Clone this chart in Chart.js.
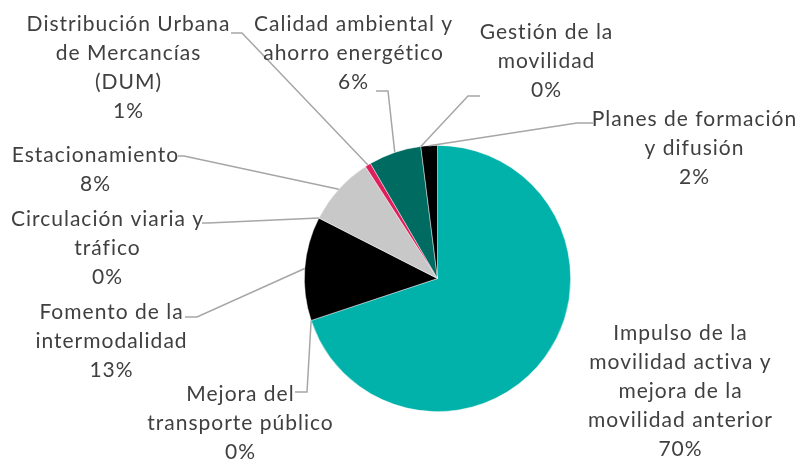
<!DOCTYPE html>
<html>
<head>
<meta charset="utf-8">
<script src="https://cdn.jsdelivr.net/npm/chart.js@4/dist/chart.umd.min.js"></script>
<style>
  html, body { margin: 0; padding: 0; background: #fff; }
</style>
</head>
<body>
<canvas id="pie" width="799" height="459"></canvas>
<script>
// Slices in drawing order, clockwise from 12 o'clock
const categoryLines = [
    ['Impulso de la', 'movilidad activa y', 'mejora de la', 'movilidad anterior'],
    ['Mejora del', 'transporte público'],
    ['Fomento de la', 'intermodalidad'],
    ['Circulación viaria y', 'tráfico'],
    ['Estacionamiento'],
    ['Distribución Urbana', 'de Mercancías', '(DUM)'],
    ['Calidad ambiental y', 'ahorro energético'],
    ['Gestión de la', 'movilidad'],
    ['Planes de formación', 'y difusión'],
];
const shares = [69.9, 0, 12.6, 0, 8.4, 0.7, 6.4, 0, 2.0];
const sliceColors = ['#00B2A9', '#7F7F7F', '#000000', '#A5A5A5', '#C8C8C8', '#E0205C', '#006B61', '#4F4F4F', '#000000'];

// Where each callout text sits (first line centre) and where its leader starts
const labelPlacement = [
    { x: 680, y: 333, attach: null },
    { x: 240, y: 394, attach: [295, 392], elbow: 12 },
    { x: 111, y: 312, attach: [185, 317], elbow: 12 },
    { x: 107, y: 219, attach: [202, 223], elbow: 6 },
    { x: 95,  y: 155, attach: [178, 156], elbow: 6 },
    { x: 128, y: 24,  attach: [231, 33],  elbow: 11 },
    { x: 353, y: 24,  attach: [376, 91],  elbow: 12 },
    { x: 546, y: 32,  attach: [480, 96],  elbow: -12 },
    { x: 694, y: 119, attach: [593, 123], elbow: -16 },
];
const LINE_GAP = 29;

const total = shares.reduce((a, b) => a + b, 0);
const pctText = v => Math.round(v / total * 100) + '%';

const pieCallouts = {
    id: 'pieCallouts',
    afterDatasetsDraw(chart) {
        const ctx = chart.ctx;
        const arcs = chart.getDatasetMeta(0).data;
        ctx.save();
        ctx.strokeStyle = '#A6A6A6';
        ctx.lineWidth = 1.5;
        ctx.fillStyle = '#404040';
        ctx.font = '21px Lato';
        ctx.letterSpacing = '1px';
        ctx.textAlign = 'center';
        ctx.textBaseline = 'middle';
        arcs.forEach((arc, i) => {
            const p = labelPlacement[i];
            const { x, y, startAngle, endAngle, outerRadius } =
                arc.getProps(['x', 'y', 'startAngle', 'endAngle', 'outerRadius'], true);
            const mid = (startAngle + endAngle) / 2;
            const ex = x + Math.cos(mid) * outerRadius;
            const ey = y + Math.sin(mid) * outerRadius;
            if (p.attach) {
                ctx.beginPath();
                ctx.moveTo(p.attach[0], p.attach[1]);
                ctx.lineTo(p.attach[0] + p.elbow, p.attach[1]);
                ctx.lineTo(ex, ey);
                ctx.stroke();
            }
            const lines = [...categoryLines[i], pctText(shares[i])];
            // trailing letter spacing shifts centred text; nudge it back
            lines.forEach((t, k) => ctx.fillText(t, p.x + 0.5, p.y + k * LINE_GAP));
        });
        ctx.restore();
    }
};

new Chart(document.getElementById('pie'), {
    type: 'pie',
    data: {
        labels: categoryLines.map(l => l.join(' ')),
        datasets: [{
            data: shares,
            backgroundColor: sliceColors,
            borderColor: 'rgba(255,255,255,0.6)',
            borderWidth: 0.75,
            hoverOffset: 0,
        }]
    },
    options: {
        responsive: false,
        animation: false,
        layout: { padding: { top: 145, bottom: 47, left: 76, right: 0 } },
        plugins: {
            legend: { display: false },
            tooltip: { enabled: false },
        },
    },
    plugins: [pieCallouts],
});
</script>
</body>
</html>
